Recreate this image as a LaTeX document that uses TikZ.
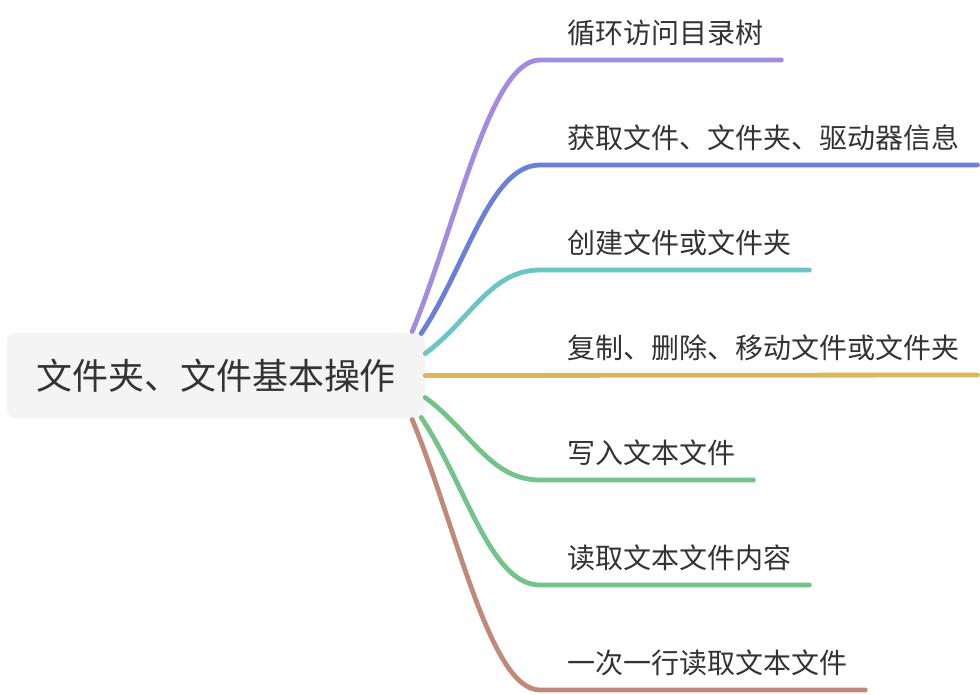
\documentclass[tikz,border=0pt]{standalone}
\usepackage{fontspec}
\setmainfont{Noto Sans CJK SC}
\usepackage{tikz}
\usetikzlibrary{calc, positioning}
\definecolor{textgray}{HTML}{333333}
\definecolor{rootfill}{HTML}{F4F4F4}
\definecolor{bpurple}{HTML}{A28BE0}
\definecolor{bblue}{HTML}{6B7ED8}
\definecolor{bteal}{HTML}{6CC5C3}
\definecolor{bgold}{HTML}{DFB55A}
\definecolor{bgreen}{HTML}{75C38B}
\definecolor{bbrown}{HTML}{C0897A}

\begin{document}
\begin{tikzpicture}[x=1pt, y={(0,-1pt)},
        branch/.style={line width=4.8pt, line cap=round},
        leaf/.style={anchor=west, inner sep=0pt, text=textgray, font=\fontsize{28}{34}\selectfont}]
    \useasboundingbox (0,0) rectangle (980,694);
    \node[fill=rootfill, rounded corners=8pt, minimum width=418pt, minimum height=85pt, text=textgray, font=\fontsize{36}{42}\selectfont] (root) at (216,375.5) {文件夹、文件基本操作};
    \node[leaf] (walk) at (567,33) {循环访问目录树};
    \node[leaf] (info) at (567,138) {获取文件、文件夹、驱动器信息};
    \node[leaf] (create) at (567,243) {创建文件或文件夹};
    \node[leaf] (copy) at (567,348) {复制、删除、移动文件或文件夹};
    \node[leaf] (write) at (567,453) {写入文本文件};
    \node[leaf] (read) at (567,558) {读取文本文件内容};
    \node[leaf] (readline) at (567,663) {一次一行读取文本文件};
    % branches
    \draw[branch, bpurple] ($(root.east)+(-13,-44)$) .. controls +(45,-109) and +(-50,0) .. ($(walk.west)+(-27,27)$) -- ($(walk.east)+(18,27)$);
    \draw[branch, bblue] ($(root.east)+(-4,-42)$) .. controls +(45,-67) and +(-50,0) .. ($(info.west)+(-27,27)$) -- ($(info.east)+(18,27)$);
    \draw[branch, bteal] ($(root.east)+(0,-22)$) .. controls +(45,-33) and +(-50,0) .. ($(create.west)+(-27,27)$) -- ($(create.east)+(18,27)$);
    \draw[branch, bgold] (root.east) -- ($(copy.east)+(18,27)$);
    \draw[branch, bgreen] ($(root.east)+(0,22)$) .. controls +(45,33) and +(-50,0) .. ($(write.west)+(-27,27)$) -- ($(write.east)+(18,27)$);
    \draw[branch, bgreen] ($(root.east)+(-4,42)$) .. controls +(45,67) and +(-50,0) .. ($(read.west)+(-27,27)$) -- ($(read.east)+(18,27)$);
    \draw[branch, bbrown] ($(root.east)+(-13,44)$) .. controls +(45,109) and +(-50,0) .. ($(readline.west)+(-27,27)$) -- ($(readline.east)+(18,27)$);
\end{tikzpicture}
\end{document}
